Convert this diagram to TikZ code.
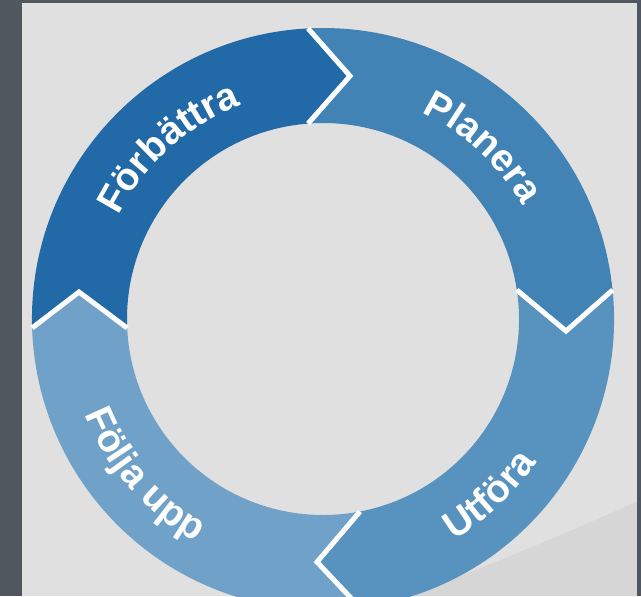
\documentclass[tikz,border=0pt]{standalone}
\usepackage{fontspec}
\setsansfont{Liberation Sans}
\usetikzlibrary{decorations.text}
\definecolor{frame}{HTML}{50575F}
\definecolor{paper}{HTML}{E0E0E0}
\definecolor{swoosh}{HTML}{D6D6D6}
\definecolor{improve}{HTML}{2169A7}
\definecolor{plan}{HTML}{4283B6}
\definecolor{doit}{HTML}{5893C0}
\definecolor{follow}{HTML}{70A1C8}
\newcommand{\ringfont}{\sffamily\bfseries\fontsize{22}{22}\selectfont}

\begin{document}
\begin{tikzpicture}[x=0.02cm,y=0.02cm,
    gap/.style={draw=white!92!paper,line width=0.1cm,line join=miter},
    ringtext/.style={decorate,decoration={text along path,text align=center,
      text color=white,text={|\ringfont|#1}}}]
    \clip (-323,-277) rectangle (318,319);
    \fill[paper] (-323,-277) rectangle (318,319);
    \fill[swoosh] (80,-277) .. controls (150,-255) and (240,-215) .. (318,-181) -- (318,-277) -- cycle;
    \fill[frame] (-323,-277) rectangle (-301,319);
    \fill[frame] (-323,316) rectangle (318,319);
    \fill[frame] (314,-277) rectangle (318,319);
    % chevron corners
    \coordinate (topout) at (-15,290.6);
    \coordinate (topin) at (-15,195.4);
    \coordinate (toptip) at (27,243);
    \coordinate (rightout) at (289.6,29);
    \coordinate (rightin) at (193.8,29);
    \coordinate (righttip) at (243,-12);
    \coordinate (bottomout) at (37,-288.6);
    \coordinate (bottomin) at (37,-192.5);
    \coordinate (bottomtip) at (-6,-243);
    \coordinate (leftout) at (-290.9,-9);
    \coordinate (leftin) at (-195.8,-9);
    \coordinate (lefttip) at (-244,27);
    % ring segments
    \fill[improve] (leftout) arc[start angle=181.77,end angle=92.95,radius=291] -- (toptip)
      -- (topin) arc[start angle=94.39,end angle=182.63,radius=196] -- (lefttip) -- cycle;
    \fill[plan] (topout) arc[start angle=92.95,end angle=5.72,radius=291] -- (righttip)
      -- (rightin) arc[start angle=8.51,end angle=94.39,radius=196] -- (toptip) -- cycle;
    \fill[doit] (rightout) arc[start angle=5.72,end angle=-82.69,radius=291] -- (bottomtip)
      -- (bottomin) arc[start angle=-79.12,end angle=8.51,radius=196] -- (righttip) -- cycle;
    \fill[follow] (bottomout) arc[start angle=277.31,end angle=181.77,radius=291] -- (lefttip)
      -- (leftin) arc[start angle=182.63,end angle=280.88,radius=196] -- (bottomtip) -- cycle;
    % gaps
    \draw[gap] (topout) -- (toptip) -- (topin);
    \draw[gap] (rightout) -- (righttip) -- (rightin);
    \draw[gap] (bottomout) -- (bottomtip) -- (bottomin);
    \draw[gap] (leftout) -- (lefttip) -- (leftin);
    % labels
    \path[ringtext=Förbättra] (172:229) arc[start angle=172,end angle=92,radius=229];
    \path[ringtext=Planera] (87:229) arc[start angle=87,end angle=7,radius=229];
    \path[ringtext=Utföra] (-86.5:257) arc[start angle=-86.5,end angle=-6.5,radius=257];
    \path[ringtext=Följa upp] (181:257) arc[start angle=181,end angle=261,radius=257];
\end{tikzpicture}
\end{document}
